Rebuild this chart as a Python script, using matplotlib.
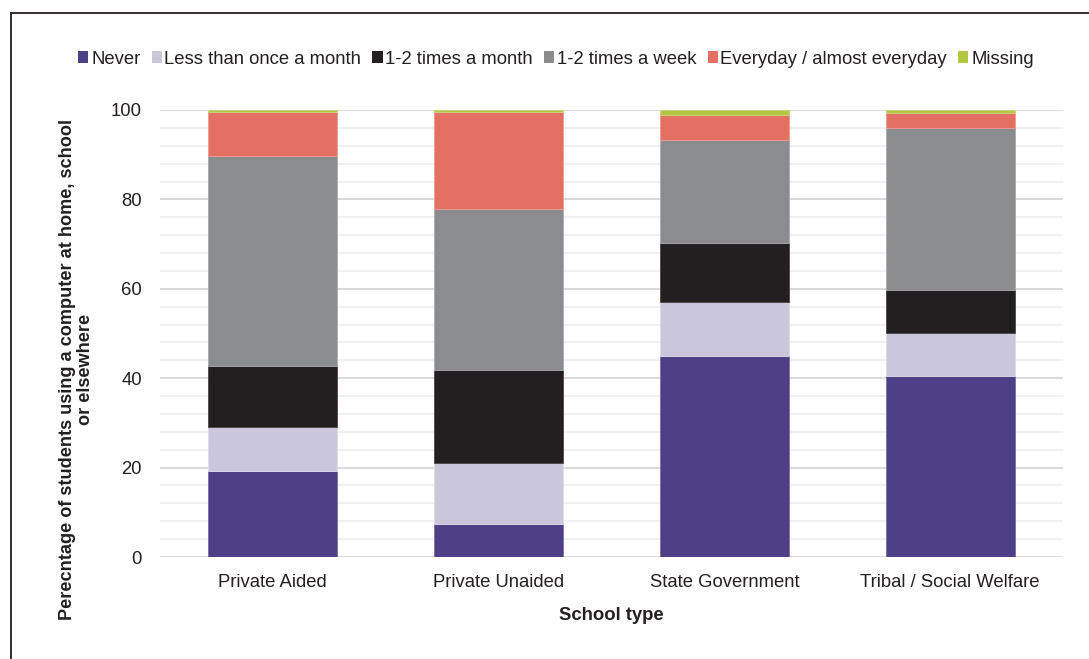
import numpy as np
import matplotlib as mpl
mpl.use('Agg')
import matplotlib.pyplot as plt
from matplotlib.lines import Line2D
from matplotlib.patches import Patch

#data
aSchool = ['Private Aided', 'Private Unaided', 'State Government', 'Tribal / Social Welfare']
aSeries = ['Never', 'Less than once a month', '1-2 times a month', '1-2 times a week',
           'Everyday / almost everyday', 'Missing']
aNever = [19.2, 7.4, 45.0, 40.5]
aLess_month = [9.9, 13.6, 12.0, 9.7]
aTimes_month = [13.6, 20.8, 13.3, 9.6]
aTimes_week = [47.0, 36.0, 22.9, 36.1]
aEveryday = [9.8, 21.8, 5.6, 3.5]
aMissing = [0.5, 0.4, 1.2, 0.6]

aColor = ['#4f3f86', '#cbc7da', '#231f20', '#8b8c90', '#e37062', '#b5c643']
aEdge = ['#7a6fa8', '#dedbe8', '#4a4647', '#a9aaad', '#ee9a90', '#c9d67a']

plt.rcParams['font.family'] = ['Liberation Sans', 'DejaVu Sans']

fig = plt.figure(figsize=(10.89, 6.59), dpi=100)
ax = fig.add_axes([160 / 1089, 1 - 557 / 659, 903 / 1089, 447 / 659])

x = np.arange(len(aSchool))
aData = [aNever, aLess_month, aTimes_month, aTimes_week, aEveryday, aMissing]
aBottom = np.zeros(len(aSchool))
for i, aValue in enumerate(aData):
    ax.bar(x, aValue, width=0.571, bottom=aBottom, color=aColor[i],
           edgecolor=aEdge[i], linewidth=0.6, zorder=3)
    aBottom = aBottom + np.array(aValue)

ax.set_xlim(-0.5, 3.5)
ax.set_ylim(0, 100)
ax.set_yticks(np.arange(0, 101, 20))
ax.set_yticks(np.arange(0, 101, 4), minor=True)
ax.yaxis.grid(True, which='major', color='#d9d9d9', linewidth=1.4, zorder=0)
ax.yaxis.grid(True, which='minor', color='#efefef', linewidth=1.2, zorder=0)
ax.set_xticks(x)
ax.set_xticklabels(aSchool)
ax.tick_params(axis='both', which='both', length=0, labelsize=13.3, colors='#231f20')
ax.tick_params(axis='y', pad=13)
ax.tick_params(axis='x', pad=12)
for s in ['top', 'right', 'left', 'bottom']:
    ax.spines[s].set_visible(False)

ax.set_xlabel('School type', fontsize=13.3, fontweight='bold', color='#231f20', labelpad=12)
ax.set_ylabel('Perecntage of students using a computer at home, school\nor elsewhere',
              fontsize=13.1, fontweight='bold', color='#231f20', linespacing=1.05)
ax.yaxis.set_label_coords(-66 / 903, 0.42)

aHandle = [Patch(facecolor=c, edgecolor='none') for c in aColor]
fig.legend(aHandle, aSeries, loc='center', bbox_to_anchor=(556 / 1089, 1 - 59 / 659),
           ncol=6, frameon=False, fontsize=13.3, handlelength=0.55, handleheight=0.55,
           handletextpad=0.15, columnspacing=0.6, labelcolor='#231f20')

#frame lines on left and top
fig.add_artist(Line2D([11 / 1089, 11 / 1089], [0, 1 - 13 / 659], color='#231f20', linewidth=1.3))
fig.add_artist(Line2D([11 / 1089, 1], [1 - 13 / 659, 1 - 13 / 659], color='#231f20', linewidth=1.3))

plt.savefig('out.png', dpi=100)
plt.close('all')
